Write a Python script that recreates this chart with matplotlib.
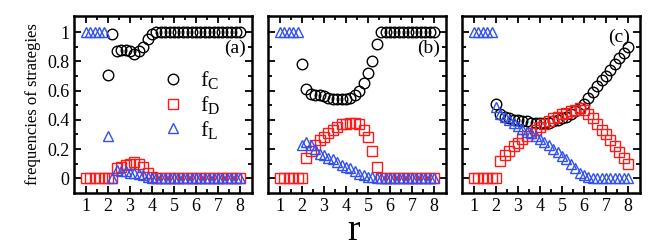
import numpy as np
import matplotlib
matplotlib.use('Agg')
import matplotlib.pyplot as plt

plt.rcParams['font.family'] = ['Liberation Serif', 'DejaVu Serif']
plt.rcParams['mathtext.fontset'] = 'custom'
plt.rcParams['mathtext.rm'] = 'Liberation Serif'

# r values, 1.0 .. 8.0 step 0.2
r = [1.0, 1.2, 1.4, 1.6, 1.8, 2.0, 2.2, 2.4, 2.6, 2.8, 3.0, 3.2, 3.4, 3.6, 3.8, 4.0,
     4.2, 4.4, 4.6, 4.8, 5.0, 5.2, 5.4, 5.6, 5.8, 6.0, 6.2, 6.4, 6.6, 6.8, 7.0, 7.2,
     7.4, 7.6, 7.8, 8.0]
nan = np.nan

# panel (a)
fc_a = [nan, nan, nan, nan, nan, 0.71, 0.99, 0.87, 0.88, 0.88, 0.87, 0.85, 0.87, 0.90, 0.95, 0.99,
        1, 1, 1, 1, 1, 1, 1, 1, 1, 1, 1, 1, 1, 1, 1, 1, 1, 1, 1, 1]
fd_a = [0, 0, 0, 0, 0, 0, 0, 0.07, 0.08, 0.09, 0.10, 0.11, 0.10, 0.08, 0.04, 0.01,
        0, 0, 0, 0, 0, 0, 0, 0, 0, 0, 0, 0, 0, 0, 0, 0, 0, 0, 0, 0]
fl_a = [1, 1, 1, 1, 1, 0.29, 0, 0.06, 0.05, 0.05, 0.04, 0.04, 0.03, 0.02, 0.01, 0,
        0, 0, 0, 0, 0, 0, 0, 0, 0, 0, 0, 0, 0, 0, 0, 0, 0, 0, 0, 0]

# panel (b)
fc_b = [nan, nan, nan, nan, nan, 0.78, 0.61, 0.58, 0.57, 0.57, 0.56, 0.55, 0.54, 0.54, 0.54, 0.54,
        0.55, 0.57, 0.60, 0.65, 0.72, 0.80, 0.92, 1, 1, 1, 1, 1, 1, 1, 1, 1, 1, 1, 1, 1]
fd_b = [0, 0, 0, 0, 0, 0, 0.14, 0.19, 0.23, 0.26, 0.28, 0.31, 0.33, 0.35, 0.37, 0.375,
        0.38, 0.38, 0.37, 0.33, 0.28, 0.19, 0.08, 0, 0, 0, 0, 0, 0, 0, 0, 0, 0, 0, 0, 0]
fl_b = [1, 1, 1, 1, 1, 0.23, 0.25, 0.23, 0.20, 0.17, 0.16, 0.14, 0.13, 0.11, 0.09, 0.08,
        0.07, 0.05, 0.03, 0.02, 0.01, 0.01, 0, 0, 0, 0, 0, 0, 0, 0, 0, 0, 0, 0, 0, 0]

# panel (c)
fc_c = [nan, nan, nan, nan, nan, 0.51, 0.44, 0.42, 0.41, 0.40, 0.40, 0.39, 0.39, 0.38, 0.38, 0.38,
        0.38, 0.38, 0.39, 0.40, 0.41, 0.42, 0.44, 0.46, 0.48, 0.51, 0.55, 0.59, 0.63, 0.67, 0.70, 0.74,
        0.78, 0.82, 0.86, 0.90]
fd_c = [0, 0, 0, 0, 0, 0, 0.12, 0.16, 0.19, 0.22, 0.24, 0.27, 0.29, 0.31, 0.33, 0.35,
        0.37, 0.39, 0.41, 0.42, 0.44, 0.45, 0.46, 0.47, 0.48, 0.47, 0.44, 0.41, 0.37, 0.33, 0.30, 0.26,
        0.22, 0.18, 0.14, 0.10]
fl_c = [1, 1, 1, 1, 1, 0.49, 0.44, 0.42, 0.40, 0.38, 0.36, 0.34, 0.32, 0.31, 0.29, 0.27,
        0.25, 0.23, 0.20, 0.18, 0.15, 0.13, 0.10, 0.07, 0.04, 0.02, 0.01, 0, 0, 0, 0, 0,
        0, 0, 0, 0]

panels = [(fc_a, fd_a, fl_a, '(a)', (0.965, 0.82)),
          (fc_b, fd_b, fl_b, '(b)', (0.965, 0.82)),
          (fc_c, fd_c, fl_c, '(c)', (0.945, 0.88))]

blue = '#3050f0'
red = '#ff1a1a'

fig = plt.figure(figsize=(6.53, 2.47), dpi=100)
lefts = [74, 268, 462]
for i, (fc, fd, fl, lab, pos) in enumerate(panels):
    ax = fig.add_axes([lefts[i]/653, 54/247, 178/653, 177/247])
    ax.plot(r, fc, 'o', ms=7.6, mfc='none', mec='black', mew=1.0, label=r'f$_{\rm C}$')
    ax.plot(r, fd, 's', ms=6.6, mfc='none', mec=red, mew=1.0, label=r'f$_{\rm D}$')
    ax.plot(r, fl, '^', ms=7.3, mfc='none', mec=blue, mew=1.0, label=r'f$_{\rm L}$')
    ax.set_xlim(0.45, 8.55)
    ax.set_ylim(-0.1, 1.11)
    ax.set_xticks(range(1, 9))
    ax.set_xticks(np.arange(1.5, 8.5, 1.0), minor=True)
    ax.set_yticks([0, 0.2, 0.4, 0.6, 0.8, 1.0])
    ax.set_yticks([0.1, 0.3, 0.5, 0.7, 0.9], minor=True)
    ax.tick_params(which='both', direction='in', top=True, right=True, width=1.3, labelsize=13)
    ax.tick_params(which='major', length=5)
    ax.tick_params(which='minor', length=3)
    if i == 0:
        ax.set_yticklabels(['0', '0.2', '0.4', '0.6', '0.8', '1'])
        ax.set_ylabel('frequencies of strategies', fontsize=12, labelpad=4)
        ax.legend(loc='upper left', bbox_to_anchor=(0.42, 0.76), frameon=False, fontsize=16,
                  handletextpad=0.6, labelspacing=0.1, borderpad=0, handlelength=1.2)
    else:
        ax.set_yticklabels([])
    for s in ax.spines.values():
        s.set_linewidth(1.8)
    ax.text(pos[0], pos[1], lab, transform=ax.transAxes, ha='right', va='center', fontsize=14)

fig.text(353/653, 7/247, 'r', fontsize=27, ha='center', va='baseline')

fig.savefig('out.png', dpi=100)
